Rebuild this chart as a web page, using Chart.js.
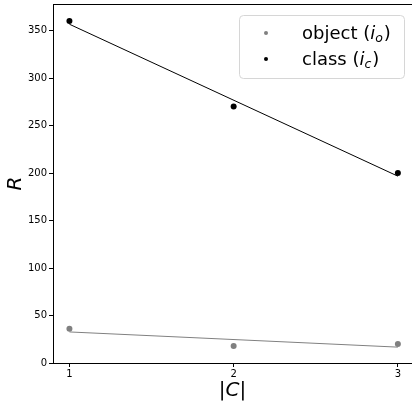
<!DOCTYPE html>
<html>
<head>
<meta charset="utf-8">
<script src="https://cdn.jsdelivr.net/npm/chart.js@4.4.1/dist/chart.umd.min.js"></script>
<style>
  html, body { margin: 0; padding: 0; background: #fff; overflow: hidden; }
  #wrap { width: 412px; height: 403px; }
</style>
</head>
<body>
<div id="wrap"><canvas id="chart"></canvas></div>
<script>
// values
const sizes = [1, 2, 3];
const objectR = [36, 18, 20];
const classR = [360, 270, 200];
// fitted lines as drawn (values at |C| = 1 and 3)
const fitX = [1, 3];
const objectFit = [32.7, 16.7];
const classFit = [356.7, 196.7];
const yTicks = [0, 50, 100, 150, 200, 250, 300, 350];

const pts = (xs, ys) => xs.map((x, i) => ({ x, y: ys[i] }));

// top spine + legend with subscripts
const frame = {
  id: "frame",
  afterDraw(chart) {
    const ctx = chart.ctx;
    const a = chart.chartArea;
    ctx.save();
    ctx.strokeStyle = "#000";
    ctx.lineWidth = 1;
    ctx.beginPath();
    ctx.moveTo(a.left, a.top + 0.5);
    ctx.lineTo(a.right, a.top + 0.5);
    ctx.stroke();

    // legend box
    const bx = 239.5, by = 15.5, bw = 165, bh = 63;
    ctx.beginPath();
    ctx.roundRect(bx, by, bw, bh, 4);
    ctx.fillStyle = "rgba(255,255,255,0.8)";
    ctx.fill();
    ctx.strokeStyle = "#d6d6d6";
    ctx.stroke();

    const rows = [
      { color: "#808080", label: "object (", sub: "o", y: 33 },
      { color: "#000000", label: "class (", sub: "c", y: 59 }
    ];
    rows.forEach(r => {
      ctx.fillStyle = r.color;
      ctx.beginPath();
      ctx.arc(266, r.y, 2, 0, Math.PI * 2);
      ctx.fill();
      ctx.fillStyle = "#000";
      ctx.textBaseline = "alphabetic";
      let x = 302;
      const base = r.y + 6;
      ctx.font = "18px 'DejaVu Sans'";
      ctx.fillText(r.label, x, base);
      x += ctx.measureText(r.label).width;
      ctx.font = "italic 18px 'DejaVu Sans'";
      ctx.fillText("i", x, base);
      x += ctx.measureText("i").width;
      ctx.font = "italic 12.5px 'DejaVu Sans'";
      ctx.fillText(r.sub, x, base + 3);
      x += ctx.measureText(r.sub).width + 1;
      ctx.font = "18px 'DejaVu Sans'";
      ctx.fillText(")", x, base);
    });
    ctx.restore();
  }
};

const tickFont = { family: "'DejaVu Sans'", size: 10 };

new Chart(document.getElementById("chart"), {
  type: "scatter",
  data: {
    datasets: [
      {
        label: "object fit",
        data: pts(fitX, objectFit),
        showLine: true,
        borderColor: "#808080",
        borderWidth: 1,
        pointRadius: 0
      },
      {
        label: "class fit",
        data: pts(fitX, classFit),
        showLine: true,
        borderColor: "#000000",
        borderWidth: 1,
        pointRadius: 0
      },
      {
        label: "object",
        data: pts(sizes, objectR),
        backgroundColor: "#808080",
        borderWidth: 0,
        pointRadius: 3
      },
      {
        label: "class",
        data: pts(sizes, classR),
        backgroundColor: "#000000",
        borderWidth: 0,
        pointRadius: 3
      }
    ]
  },
  options: {
    responsive: true,
    maintainAspectRatio: false,
    animation: false,
    layout: { autoPadding: false, padding: { top: 4, right: 0, left: 0, bottom: 0 } },
    plugins: { legend: { display: false }, tooltip: { enabled: false } },
    scales: {
      x: {
        type: "linear",
        min: 0.9,
        max: 3.086,
        afterBuildTicks: s => { s.ticks = sizes.map(v => ({ value: v })); },
        afterFit: s => { s.height = 40; s.paddingLeft = 0; s.paddingRight = 0; },
        grid: { drawOnChartArea: false, tickLength: 4, color: "#000" },
        border: { color: "#000", width: 1 },
        ticks: { font: tickFont, color: "#000", padding: 1, maxRotation: 0 },
        title: {
          display: true,
          text: "|C|",
          font: { family: "'DejaVu Sans'", size: 20, style: "italic" },
          color: "#000",
          padding: { top: 0, bottom: 0 }
        }
      },
      y: {
        min: 0,
        max: 378,
        afterBuildTicks: s => { s.ticks = yTicks.map(v => ({ value: v })); },
        afterFit: s => { s.width = 53; s.paddingTop = 0; s.paddingBottom = 0; },
        grid: { drawOnChartArea: false, tickLength: 4, color: "#000" },
        border: { color: "#000", width: 1 },
        ticks: { font: tickFont, color: "#000", padding: 2 },
        title: {
          display: true,
          text: "R",
          font: { family: "'DejaVu Sans'", size: 20, style: "italic" },
          color: "#000",
          padding: { top: 4, bottom: 0 }
        }
      }
    }
  },
  plugins: [frame]
});
</script>
</body>
</html>
